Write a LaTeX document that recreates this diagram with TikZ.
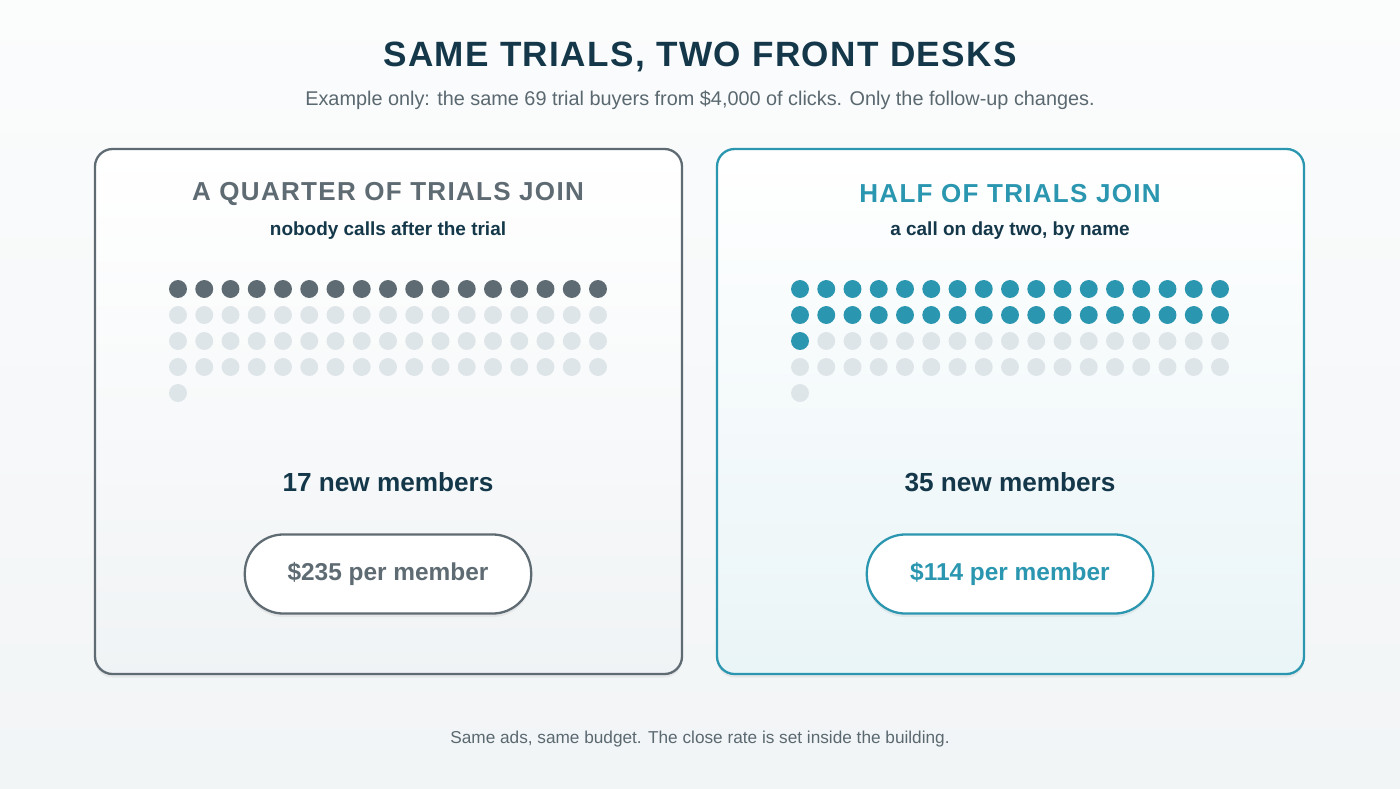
\documentclass[tikz,border=0pt]{standalone}
\usepackage{fontspec}
\setmainfont{Liberation Sans}
\usetikzlibrary{positioning,shadows}
\definecolor{navy}{HTML}{14384A}
\definecolor{slate}{HTML}{5F6B73}
\definecolor{teal}{HTML}{2A96B0}
\definecolor{pale}{HTML}{DEE5E9}
\definecolor{greytxt}{HTML}{5A6870}
\tikzset{
  card/.style = {draw, line width=1.3pt, rounded corners=10pt, drop shadow={opacity=0.12, shadow xshift=0pt, shadow yshift=-2pt}},
  pill/.style = {draw, line width=1.3pt, fill=white, rounded corners=22pt, minimum width=163pt, minimum height=45pt, font=\fontsize{13.9}{15}\selectfont\bfseries, drop shadow={opacity=0.12, shadow xshift=0pt, shadow yshift=-2pt}},
  dot/.style = {circle, inner sep=0pt, minimum size=10.2pt},
  cardtitle/.style = {font=\fontsize{14.8}{16}\selectfont\bfseries\addfontfeature{LetterSpace=5}},
  cardsub/.style = {font=\fontsize{10.8}{12}\selectfont\bfseries, text=navy},
  members/.style = {font=\fontsize{14.9}{16}\selectfont\bfseries, text=navy}
}
\begin{document}
\begin{tikzpicture}[x=0.02cm, y=-0.02cm]
\shade[top color=white!60!pale!30, bottom color=pale!40!white] (0,0) rectangle (1400,788);
\useasboundingbox (0,0) rectangle (1400,788);

\node[font=\fontsize{20}{22}\selectfont\bfseries\addfontfeature{LetterSpace=4}, text=navy] (title) at (700,57) {SAME TRIALS, TWO FRONT DESKS};
\node[font=\fontsize{11.3}{13}\selectfont, text=greytxt] (sub) at (700,100) {Example only: the same 69 trial buyers from \$4,000 of clicks. Only the follow-up changes.};

% left card
\draw[card, draw=slate, top color=white, bottom color=pale!45] (95,149) rectangle (682,674);
\node[cardtitle, text=slate] (ltitle) at (388,194) {A QUARTER OF TRIALS JOIN};
\node[cardsub] (lsub) at (388,231) {nobody calls after the trial};
\foreach \i in {0,...,68} {
  \pgfmathtruncatemacro{\col}{mod(\i,17)}
  \pgfmathtruncatemacro{\row}{div(\i,17)}
  \ifnum\i<17 \def\dc{slate}\else\def\dc{pale}\fi
  \node[dot, fill=\dc] (l\i) at ({178+26.25*\col},{289+26*\row}) {};
}
\node[members] (lmem) at (388,482) {17 new members};
\node[pill, draw=slate, text=slate] (lpill) at (388,574) {\raisebox{-2pt}{\$235 per member}};

% right card
\draw[card, draw=teal, top color=white, bottom color=teal!10] (717,149) rectangle (1304,674);
\node[cardtitle, text=teal] (rtitle) at (1010,194) {HALF OF TRIALS JOIN};
\node[cardsub] (rsub) at (1010,231) {a call on day two, by name};
\foreach \i in {0,...,68} {
  \pgfmathtruncatemacro{\col}{mod(\i,17)}
  \pgfmathtruncatemacro{\row}{div(\i,17)}
  \ifnum\i<35 \def\dc{teal}\else\def\dc{pale}\fi
  \node[dot, fill=\dc] (r\i) at ({800+26.25*\col},{289+26*\row}) {};
}
\node[members] (rmem) at (1010,482) {35 new members};
\node[pill, draw=teal, text=teal] (rpill) at (1010,574) {\raisebox{-2pt}{\$114 per member}};

\node[font=\fontsize{9.8}{11}\selectfont, text=greytxt] (foot) at (700,739) {Same ads, same budget. The close rate is set inside the building.};
\end{tikzpicture}
\end{document}
